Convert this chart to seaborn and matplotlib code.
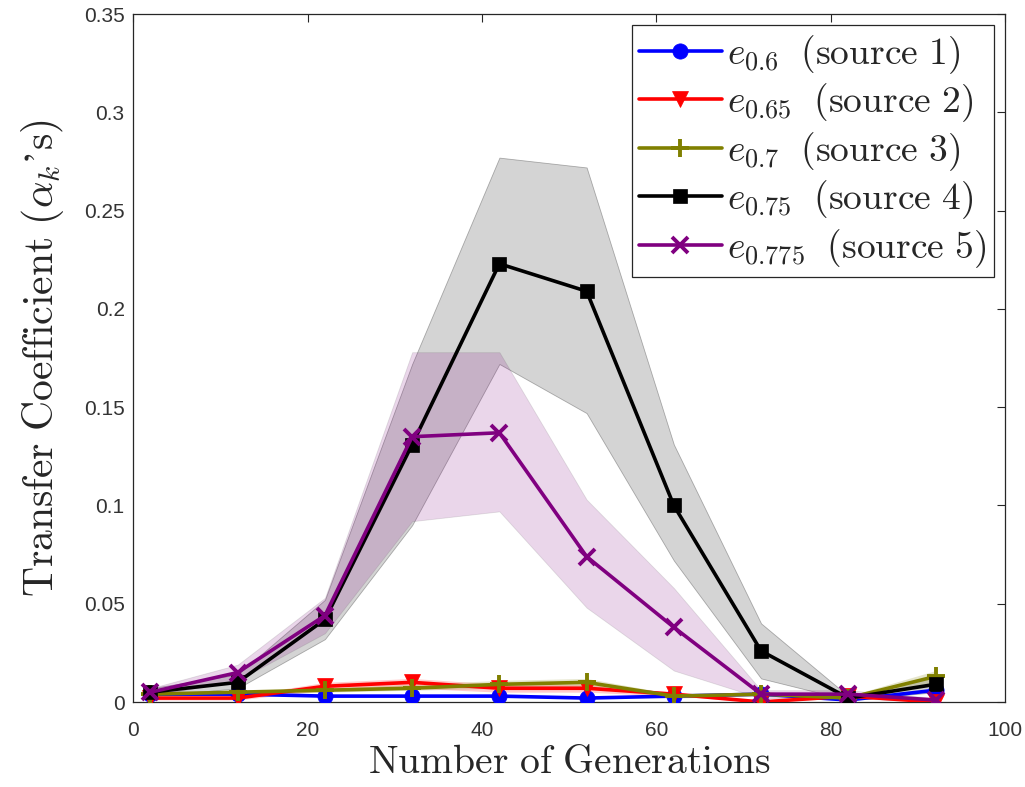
import numpy as np
import pandas as pd
import matplotlib
matplotlib.use("Agg")
import matplotlib.pyplot as plt
import seaborn as sns

generations = [2, 12, 22, 32, 42, 52, 62, 72, 82, 92]
series_labels = [r"$e_{0.6}\;\ \mathrm{(source\ 1)}$",
                 r"$e_{0.65}\;\ \mathrm{(source\ 2)}$",
                 r"$e_{0.7}\;\ \mathrm{(source\ 3)}$",
                 r"$e_{0.75}\;\ \mathrm{(source\ 4)}$",
                 r"$e_{0.775}\;\ \mathrm{(source\ 5)}$"]
src1 = [0.004, 0.004, 0.003, 0.003, 0.003, 0.002, 0.003, 0.004, 0.001, 0.006]
src2 = [0.002, 0.002, 0.008, 0.010, 0.007, 0.007, 0.004, 0.000, 0.003, 0.000]
src3 = [0.004, 0.005, 0.006, 0.007, 0.009, 0.010, 0.003, 0.004, 0.002, 0.013]
src4 = [0.005, 0.010, 0.042, 0.131, 0.223, 0.209, 0.100, 0.026, 0.002, 0.009]
src5 = [0.005, 0.015, 0.044, 0.135, 0.137, 0.074, 0.038, 0.004, 0.004, 0.001]

src2_lo = [0.001, 0.001, 0.006, 0.007, 0.005, 0.005, 0.003, 0.000, 0.002, 0.000]
src2_hi = [0.003, 0.003, 0.010, 0.012, 0.009, 0.009, 0.005, 0.001, 0.004, 0.001]
src3_lo = [0.003, 0.004, 0.005, 0.006, 0.007, 0.008, 0.002, 0.003, 0.001, 0.010]
src3_hi = [0.005, 0.006, 0.007, 0.009, 0.011, 0.012, 0.004, 0.005, 0.003, 0.016]
src4_lo = [0.003, 0.007, 0.032, 0.090, 0.172, 0.147, 0.072, 0.012, 0.001, 0.005]
src4_hi = [0.007, 0.014, 0.052, 0.172, 0.277, 0.272, 0.131, 0.040, 0.003, 0.013]
src5_lo = [0.003, 0.011, 0.035, 0.092, 0.097, 0.048, 0.016, 0.002, 0.002, 0.000]
src5_hi = [0.007, 0.019, 0.053, 0.178, 0.178, 0.103, 0.058, 0.006, 0.006, 0.002]

colors = ["#0000FF", "#FF0000", "#808000", "#000000", "#800080"]
markers = ["o", "v", "+", "s", "x"]
marker_sizes = [11, 11, 13, 10, 11]

sns.set_style("white")
plt.rcParams["mathtext.fontset"] = "cm"
plt.rcParams["font.family"] = ["Liberation Sans", "DejaVu Sans"]

values = [src1, src2, src3, src4, src5]

fig = plt.figure(figsize=(10.25, 7.87), dpi=100)
ax = fig.add_axes([0.1298, 0.108, 0.851, 0.874])

# bands
ax.fill_between(generations, src4_lo, src4_hi, color="#a0a0a0", alpha=0.45,
                edgecolor="#555555", linewidth=0.6, zorder=1)
ax.fill_between(generations, src5_lo, src5_hi, color="#800080", alpha=0.16,
                edgecolor="#555555", linewidth=0.6, zorder=1)
ax.fill_between(generations, src2_lo, src2_hi, color="#FF0000", alpha=0.2,
                linewidth=0, zorder=1)
ax.fill_between(generations, src3_lo, src3_hi, color="#808000", alpha=0.2,
                linewidth=0, zorder=1)

for vals, lab, col, mk, ms in zip(values, series_labels, colors, markers, marker_sizes):
    d = pd.DataFrame({"gen": generations, "val": vals})
    filled = mk in ("o", "v", "s")
    sns.lineplot(data=d, x="gen", y="val", color=col, marker=mk,
                 markersize=ms, linewidth=2.6,
                 markeredgewidth=(0.5 if filled else 2.8),
                 markeredgecolor=col, label=lab, ax=ax, zorder=3)

ax.set_xlim(0, 100)
ax.set_ylim(0, 0.35)
ax.set_xticks([0, 20, 40, 60, 80, 100])
ax.set_yticks([0, 0.05, 0.1, 0.15, 0.2, 0.25, 0.3, 0.35])
ax.set_yticklabels(["0", "0.05", "0.1", "0.15", "0.2", "0.25", "0.3", "0.35"])
ax.tick_params(direction="in", length=6, width=0.8, top=True, right=True,
               labelsize=15, colors="#262626", labelcolor="#333333", pad=6)
ax.tick_params(axis="x", pad=14)
for sp in ax.spines.values():
    sp.set_color("#262626")
    sp.set_linewidth(0.9)

ax.set_xlabel(r"$\mathrm{Number\ of\ Generations}$", fontsize=28.5, labelpad=2)
ax.set_ylabel(r"$\mathrm{Transfer\ Coefficient\ (}\alpha_k\mathrm{" + "\u2019" + r"s)}$",
              fontsize=30, labelpad=13)

leg = ax.legend(loc="upper right", fontsize=27, frameon=True, fancybox=False,
                edgecolor="#262626", framealpha=1, handlelength=2.2,
                handletextpad=0.15, borderpad=0.2, labelspacing=0.15,
                borderaxespad=0.3)
leg.get_frame().set_linewidth(0.9)

fig.savefig("out.png", dpi=100)
